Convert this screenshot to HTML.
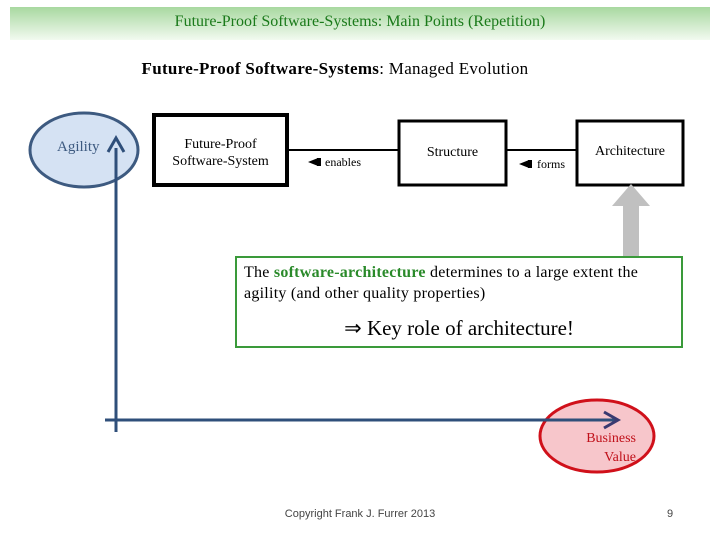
<!DOCTYPE html>
<html><head><style>
body{margin:0;width:720px;height:540px;background:#fff;position:relative;overflow:hidden;font-family:"Liberation Serif",serif}
.a{position:absolute}
</style></head><body>
<div class="a" style="left:10px;top:7px;width:700px;height:33px;background:linear-gradient(#a8d8a0,#f2faf0);"></div>
<div class="a" style="left:10px;top:13px;width:700px;text-align:center;font-size:16px;color:#1a7a1a">Future-Proof Software-Systems: Main Points (Repetition)</div>
<div class="a" style="left:0;top:59px;width:670px;text-align:center;font-size:17px;letter-spacing:0.3px;color:#000"><b>Future-Proof Software-Systems</b>: Managed Evolution</div>
<svg class="a" style="left:0;top:0" width="720" height="540">
<ellipse cx="84" cy="150" rx="54" ry="37" fill="#d5e2f3" stroke="#3d5a80" stroke-width="3"/>
<ellipse cx="597" cy="436" rx="57" ry="36" fill="#f7c6cb" stroke="#d0101a" stroke-width="3"/>
<line x1="287" y1="150" x2="398" y2="150" stroke="#000" stroke-width="2"/>
<line x1="506" y1="150" x2="576" y2="150" stroke="#000" stroke-width="2"/>
<rect x="154" y="115" width="133" height="70" fill="#fff" stroke="#000" stroke-width="4"/>
<rect x="399" y="121" width="107" height="64" fill="#fff" stroke="#000" stroke-width="3"/>
<rect x="577" y="121" width="106" height="64" fill="#fff" stroke="#000" stroke-width="3"/>
<polygon points="308,162 318,158 318,166" fill="#000"/>
<rect x="317" y="158" width="4" height="8" fill="#000"/>
<polygon points="519,164 529,160 529,168" fill="#000"/>
<rect x="528" y="160" width="4" height="8" fill="#000"/>
<polygon points="612,206 631,184 650,206 639,206 639,257 623,257 623,206" fill="#c0c0c0"/>
<line x1="116" y1="148" x2="116" y2="432" stroke="#2f4f7a" stroke-width="3"/>
<polyline points="108,152 116,138 124,152" fill="none" stroke="#2f4f7a" stroke-width="3"/>
<line x1="105" y1="420" x2="618" y2="420" stroke="#2f4f7a" stroke-width="3"/>
<polyline points="604,412 618,420 604,428" fill="none" stroke="#3a3a70" stroke-width="3"/>
<rect x="236" y="257" width="446" height="90" fill="#fff" stroke="#3a9a3a" stroke-width="2"/>
</svg>
<div class="a" style="left:57px;top:139px;font-size:15px;color:#3d5a80">Agility</div>
<div class="a" style="left:154px;top:136px;width:133px;text-align:center;font-size:14px;line-height:17px">Future-Proof<br>Software-System</div>
<div class="a" style="left:325px;top:155px;font-size:12px">enables</div>
<div class="a" style="left:399px;top:145px;width:107px;text-align:center;font-size:14px">Structure</div>
<div class="a" style="left:537px;top:157px;font-size:12px">forms</div>
<div class="a" style="left:577px;top:144px;width:106px;text-align:center;font-size:14px">Architecture</div>
<div class="a" style="left:244px;top:262px;width:432px;font-size:16px;line-height:21px;letter-spacing:0.25px">The <b style="color:#2a8a2a">software-architecture</b> determines to a large extent the agility (and other quality properties)</div>
<div class="a" style="left:236px;top:316px;width:446px;text-align:center;font-size:21px">&rArr; Key role of architecture!</div>
<div class="a" style="left:556px;top:429px;width:80px;text-align:right;font-size:14px;line-height:19px;color:#c0101a">Business<br>Value</div>
<div class="a" style="left:260px;top:508px;width:200px;text-align:center;font-size:11px;color:#444;font-family:'Liberation Sans',sans-serif">Copyright Frank J. Furrer 2013</div>
<div class="a" style="left:667px;top:508px;font-size:11px;color:#444;font-family:'Liberation Sans',sans-serif">9</div>
</body></html>
